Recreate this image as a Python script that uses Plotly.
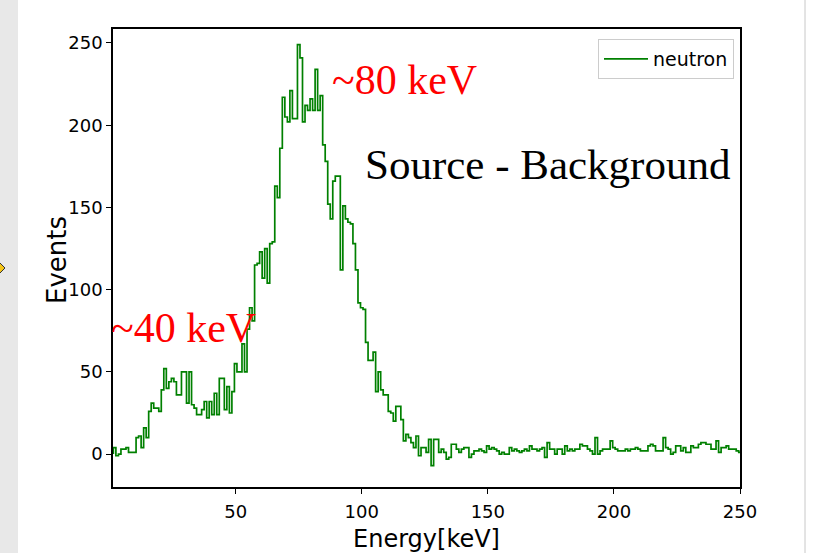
import plotly.graph_objects as go

# Background-subtracted neutron spectrum, 1 keV bins (bin centres in keV)
energy_kev = list(range(2, 251))
events = [
    4, -1, 0, 3, 3, 4, 1, 1, 1, 10,
    11, 4, 16, 10, 26, 31, 28, 28, 26, 39,
    52, 40, 44, 46, 44, 36, 36, 50, 50, 31,
    50, 30, 28, 24, 24, 27, 32, 22, 32, 24,
    37, 24, 46, 46, 27, 41, 25, 38, 55, 50,
    50, 67, 50, 76, 89, 81, 115, 116, 123, 107,
    125, 104, 128, 129, 163, 156, 186, 217, 205, 202,
    221, 204, 204, 249, 241, 202, 212, 209, 216, 209,
    234, 209, 218, 188, 178, 152, 143, 166, 169, 169,
    112, 151, 143, 141, 140, 128, 112, 92, 89, 88,
    68, 57, 57, 62, 38, 50, 39, 36, 36, 26,
    25, 20, 29, 29, 21, 8, 12, 10, 7, 4,
    11, -1, 4, 4, 1, 9, -7, 9, 9, 1,
    3, 1, -3, -2, 6, 6, 3, 1, 3, 4,
    4, -2, 0, 2, 2, 3, 2, 1, 5, 3,
    4, 3, 2, 0, 1, 0, 0, 4, 2, 3,
    2, 1, 2, 3, 2, 5, 3, 3, 2, 3,
    4, -2, 7, 3, 3, 0, 3, 3, 0, 5,
    2, 3, 2, 3, 3, 6, 5, 5, 3, 2,
    0, 10, 0, 2, 3, 3, 3, 8, 4, 3,
    2, 2, 2, 3, 2, 3, 3, 4, 3, 2,
    2, 2, 5, 6, 5, 2, 2, 2, 10, 4,
    3, 0, 1, 5, 5, 2, 4, 1, 1, 5,
    4, 4, 6, 7, 7, 6, 6, 3, 3, 8,
    1, 4, 4, 5, 3, 3, 3, 2, 1,
]

x_ticks = [50, 100, 150, 200, 250]
y_ticks = [0, 50, 100, 150, 200, 250]

# step outline: left bin edges, closing right edge, starting from zero
edges = [e - 0.5 for e in energy_kev] + [energy_kev[-1] + 0.5]
step_x = [edges[0]] + edges
step_y = [0] + events + [events[-1]]

fig = go.Figure()
fig.add_trace(go.Scatter(
    x=step_x, y=step_y, mode="lines", line_shape="hv",
    line=dict(color="#008000", width=1.7), name="neutron",
))

W, H = 820, 553
L, R, T, B = 113, 740, 29, 487


def px(xp):
    return (xp - L) / (R - L)


def py(yp):
    return (B - yp) / (B - T)


serif = "Liberation Serif, Times New Roman, serif"
fig.add_annotation(x=87.3, y=227.5, xref="x", yref="y", text="~80 keV",
                   showarrow=False, xanchor="left", yanchor="middle",
                   font=dict(family=serif, size=42, color="#ff0000"))
fig.add_annotation(x=px(109), y=py(328), xref="paper", yref="paper", text="~40 keV",
                   showarrow=False, xanchor="left", yanchor="middle",
                   font=dict(family=serif, size=42, color="#ff0000"))
fig.add_annotation(x=100.6, y=176, xref="x", yref="y", text="Source - Background",
                   showarrow=False, xanchor="left", yanchor="middle",
                   font=dict(family=serif, size=43, color="#000000"))

# y-axis label, placed by hand so it sits close to the tick labels
fig.add_annotation(x=px(57), y=py(260), xref="paper", yref="paper", text="Events",
                   showarrow=False, textangle=-90, xanchor="center", yanchor="middle",
                   font=dict(family="DejaVu Sans", size=26, color="#000000"))

# window chrome around the figure
fig.add_shape(type="rect", xref="paper", yref="paper",
              x0=px(0), x1=px(18), y0=py(553), y1=py(0),
              fillcolor="#e8e8e8", line=dict(width=0), layer="below")
fig.add_shape(type="line", xref="paper", yref="paper",
              x0=px(805), x1=px(805), y0=py(553), y1=py(0),
              line=dict(color="#c8c8c8", width=1), layer="below")
fig.add_shape(type="path", xref="paper", yref="paper",
              path=(f"M {px(-1)} {py(262)} L {px(5)} {py(268)} "
                    f"L {px(-1)} {py(274)} Z"),
              fillcolor="#f5c518", line=dict(color="#333333", width=1))

tick_font = dict(family="DejaVu Sans", size=18, color="#000000")
fig.update_layout(
    width=W, height=H,
    margin=dict(l=L, r=W - R, t=T, b=H - B, pad=0, autoexpand=False),
    paper_bgcolor="#ffffff", plot_bgcolor="#ffffff",
    showlegend=True,
    legend=dict(x=px(598), y=py(39), xanchor="left", yanchor="top",
                bgcolor="#ffffff", bordercolor="#cccccc", borderwidth=1,
                font=dict(family="DejaVu Sans", size=19, color="#000000"),
                itemwidth=44),
    xaxis=dict(range=[1.35, 250], tickvals=x_ticks, ticks="outside", ticklen=5,
               tickwidth=1.2, tickcolor="#000000", showline=True, mirror=True,
               linecolor="#000000", linewidth=1.5, showgrid=False, zeroline=False,
               tickfont=tick_font, ticklabelstandoff=3, automargin=False,
               title=dict(text="Energy[keV]", standoff=12,
                          font=dict(family="DejaVu Sans", size=24, color="#000000"))),
    yaxis=dict(range=[-20, 258.5], tickvals=y_ticks, ticks="outside", ticklen=5,
               tickwidth=1.2, tickcolor="#000000", showline=True, mirror=True,
               linecolor="#000000", linewidth=1.5, showgrid=False, zeroline=False,
               tickfont=tick_font, automargin=False),
)

fig.write_html("out.html")
